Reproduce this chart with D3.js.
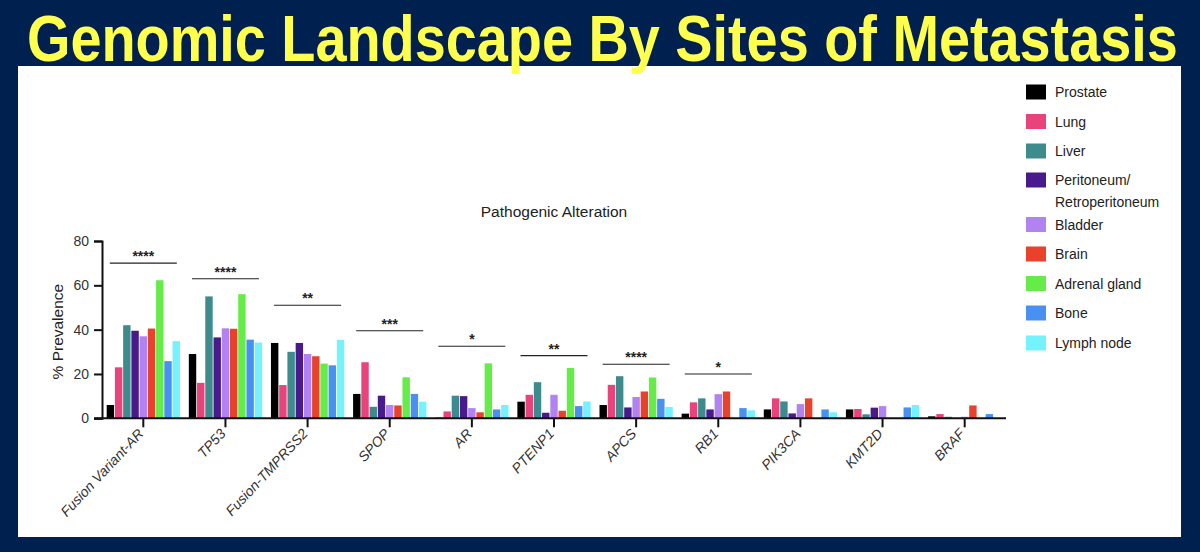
<!DOCTYPE html>
<html>
<head>
<meta charset="utf-8">
<script src="https://cdn.jsdelivr.net/npm/d3@7/dist/d3.min.js"></script>
<style>
  html, body { margin: 0; padding: 0; background: #002050; }
  svg { display: block; }
</style>
</head>
<body>
<svg id="chart" width="1200" height="552"></svg>
<script>
const categories = ["Fusion Variant-AR","TP53","Fusion-TMPRSS2","SPOP","AR","PTENP1","APCS","RB1","PIK3CA","KMT2D","BRAF"];
const sites = ["Prostate","Lung","Liver","Peritoneum/Retroperitoneum","Bladder","Brain","Adrenal gland","Bone","Lymph node"];
const siteColors = ["#000000","#e8437a","#3e8b8d","#481a8c","#b283f0","#e8412c","#66ec48","#4891f0","#74f3fc"];

const prostate   = [6, 29, 34, 11, 0.3, 7.5, 6, 2.1, 4, 4, 0.9];
const lung       = [23, 16, 15, 25.3, 3.1, 10.6, 15.1, 7.2, 9, 4.2, 1.9];
const liver      = [42, 55, 30, 5.2, 10.2, 16.3, 19, 9, 7.6, 1.8, 0.7];
const peritoneum = [39.5, 36.5, 34, 10.2, 10, 2.5, 4.9, 4, 2.2, 4.8, 0];
const bladder    = [37, 40.6, 29, 6, 4.6, 10.6, 9.6, 10.9, 6.4, 5.5, 0.7];
const brain      = [40.5, 40.4, 28, 5.8, 2.7, 3.4, 12.1, 12.1, 9, 0, 5.8];
const adrenal    = [62.3, 56, 24.7, 18.5, 24.8, 22.7, 18.4, 0, 0, 0, 0];
const bone       = [25.8, 35.5, 23.9, 11, 4, 5.5, 8.8, 4.6, 4, 4.9, 1.9];
const lymph      = [34.8, 34.2, 35.4, 7.5, 6, 7.6, 5.1, 3.6, 2.7, 6, 0];
const seriesValues = [prostate, lung, liver, peritoneum, bladder, brain, adrenal, bone, lymph];

const sigStars   = ["****","****","**","***","*","**","****","*"];
const sigHeights = [70, 63, 51, 39.5, 32.5, 28.3, 24.4, 20];
const yTicks = [0, 20, 40, 60, 80];

const svg = d3.select("#chart");
const W = 1200, H = 552;

svg.append("rect").attr("width", W).attr("height", H).attr("fill", "#002050");
svg.append("rect").attr("x", 18).attr("y", 66).attr("width", 1163).attr("height", 471).attr("fill", "#ffffff");

const title = svg.append("text")
  .attr("x", 0).attr("y", 0)
  .style("font-family", "'Liberation Sans Narrow','Arial Narrow','Liberation Sans',Arial,sans-serif")
  .style("font-weight", "bold").style("font-size", "65px")
  .attr("fill", "#ffff4d")
  .text("Genomic Landscape By Sites of Metastasis");
const tw = title.node().getComputedTextLength();
title.attr("transform", `translate(27,61) scale(${1151 / tw},1)`);

const x0 = d3.scaleBand().domain(categories).range([102, 1006]).paddingInner(0.108).paddingOuter(0.057);
const x1 = d3.scaleBand().domain(sites).range([0, x0.bandwidth()]).paddingInner(0.1);
const y = d3.scaleLinear().domain([0, 80]).range([418.3, 241]);

const font = "'Liberation Sans',Arial,Helvetica,sans-serif";

// bars
const groups = svg.append("g").selectAll("g").data(categories).join("g")
  .attr("transform", d => `translate(${x0(d)},0)`);
groups.selectAll("rect")
  .data((c, ci) => sites.map((s, si) => ({ site: s, si, v: seriesValues[si][ci] })))
  .join("rect")
  .attr("x", d => x1(d.site))
  .attr("width", x1.bandwidth())
  .attr("y", d => y(d.v))
  .attr("height", d => y(0) - y(d.v))
  .attr("fill", d => siteColors[d.si]);

// y axis
const yAxis = svg.append("g").attr("transform", "translate(102,0)")
  .call(d3.axisLeft(y).tickValues(yTicks).tickSize(8).tickPadding(5));
yAxis.select(".domain").attr("stroke", "#111").attr("stroke-width", 2);
yAxis.selectAll(".tick line").attr("stroke", "#111").attr("stroke-width", 2);
yAxis.selectAll(".tick text").style("font-family", font).style("font-size", "14px").attr("fill", "#333");

// x axis
const xAxis = svg.append("g").attr("transform", `translate(0,${y(0)})`)
  .call(d3.axisBottom(x0).tickSize(9).tickSizeOuter(0).tickFormat(""));
xAxis.select(".domain").attr("stroke", "#111").attr("stroke-width", 2)
  .attr("d", `M94,0H1006`);
xAxis.selectAll(".tick line").attr("stroke", "#111").attr("stroke-width", 2);

svg.append("g").selectAll("text").data(categories).join("text")
  .attr("text-anchor", "end")
  .attr("transform", d => `translate(${x0(d) + x0.bandwidth() / 2 + 1},${y(0) + 16}) rotate(-47)`)
  .style("font-family", font).style("font-size", "14px").style("font-style", "italic")
  .attr("fill", "#333")
  .text(d => d);

// y label
svg.append("text")
  .attr("transform", `translate(63,${(y(0) + y(80)) / 2 + 2}) rotate(-90)`)
  .attr("text-anchor", "middle")
  .style("font-family", font).style("font-size", "15.5px").attr("fill", "#222")
  .text("% Prevalence");

// chart title
svg.append("text")
  .attr("x", 554).attr("y", 217).attr("text-anchor", "middle")
  .style("font-family", font).style("font-size", "15.5px").attr("fill", "#222")
  .text("Pathogenic Alteration");

// significance bars
const sig = svg.append("g").selectAll("g").data(sigStars).join("g");
sig.append("line")
  .attr("x1", (d, i) => x0(categories[i]) + x0.bandwidth() / 2 - 33.5)
  .attr("x2", (d, i) => x0(categories[i]) + x0.bandwidth() / 2 + 33.5)
  .attr("y1", (d, i) => y(sigHeights[i])).attr("y2", (d, i) => y(sigHeights[i]))
  .attr("stroke", "#222").attr("stroke-width", 1.1);
sig.append("text")
  .attr("x", (d, i) => x0(categories[i]) + x0.bandwidth() / 2)
  .attr("y", (d, i) => y(sigHeights[i]) - 2)
  .attr("text-anchor", "middle")
  .style("font-family", font).style("font-size", "14px").style("font-weight", "bold")
  .attr("fill", "#222")
  .text(d => d);

// legend
const legendY = [92, 121.5, 151, 180, 224.5, 254, 283.5, 313, 343];
const leg = svg.append("g").selectAll("g").data(sites).join("g")
  .attr("transform", (d, i) => `translate(1026,${legendY[i]})`);
leg.append("rect").attr("x", 0).attr("y", -7.5).attr("width", 20).attr("height", 15)
  .attr("fill", (d, i) => siteColors[i]);
leg.append("text").attr("x", 29).attr("y", 5)
  .style("font-family", font).style("font-size", "14px").attr("fill", "#222")
  .each(function(d) {
    const parts = d === "Peritoneum/Retroperitoneum" ? ["Peritoneum/", "Retroperitoneum"] : [d];
    d3.select(this).selectAll("tspan").data(parts).join("tspan")
      .attr("x", 29).attr("dy", (p, j) => j === 0 ? 0 : 22)
      .text(p => p);
  });
</script>
</body>
</html>
